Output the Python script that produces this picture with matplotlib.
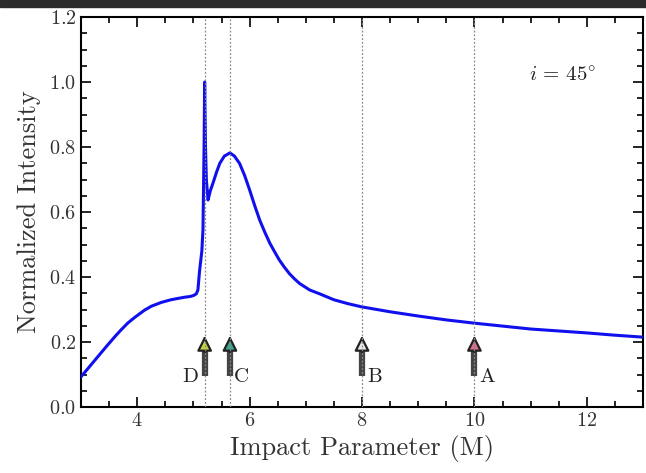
import matplotlib
matplotlib.use('Agg')
import matplotlib.pyplot as plt
from matplotlib.patches import Rectangle
from matplotlib.ticker import MultipleLocator

plt.rcParams['font.family'] = 'cmr10'
plt.rcParams['mathtext.fontset'] = 'cm'
plt.rcParams['axes.formatter.use_mathtext'] = True

# intensity profile
impact = [3.0, 3.15, 3.3, 3.45, 3.6, 3.7, 3.83, 3.95, 4.13, 4.25, 4.43, 4.6,
          4.72, 4.85, 4.94, 5.0, 5.05, 5.08, 5.11, 5.15, 5.17,
          5.19, 5.20, 5.215, 5.23, 5.26, 5.3, 5.35, 5.41, 5.47, 5.55, 5.65, 5.73,
          5.82, 5.91, 6.0, 6.09, 6.18, 6.27, 6.36, 6.45, 6.53, 6.62, 6.71, 6.8,
          6.89, 6.98, 7.07, 7.25, 7.5, 7.75, 8.0, 8.5, 9.0, 9.5,
          10.0, 10.5, 11.0, 11.5, 12.0, 12.5, 13.0]
intensity = [0.093, 0.124, 0.155, 0.186, 0.216, 0.235, 0.258, 0.275, 0.298, 0.31,
             0.322, 0.33, 0.334, 0.338, 0.34, 0.343, 0.348, 0.36, 0.42, 0.48, 0.545,
             0.8, 1.0, 0.8, 0.70, 0.637, 0.665, 0.69, 0.722, 0.75,
             0.772, 0.782, 0.772, 0.75, 0.713, 0.668, 0.62, 0.575, 0.538, 0.504,
             0.476, 0.452, 0.43, 0.41, 0.394, 0.38, 0.37, 0.36, 0.348, 0.33,
             0.318, 0.308, 0.293, 0.28, 0.268, 0.258, 0.249, 0.24, 0.234,
             0.228, 0.221, 0.215]

# marked radii
mark_names = ['A', 'B', 'C', 'D']
mark_pos = [10.0, 8.0, 5.65, 5.2]
mark_colors = ['#d8708c', '#e8e8e8', '#3aa68e', '#c8d048']
label_pos = [10.22, 8.22, 5.86, 4.94]

fig = plt.figure(figsize=(6.46, 4.73), dpi=100)
fig.patches.append(Rectangle((0, 0.985), 1, 0.015, transform=fig.transFigure,
                             color='#2b2b2b', zorder=10))
ax = fig.add_axes([0.1254, 0.1395, 0.8700, 0.8245])

ax.plot(impact, intensity, color='#1010ee', lw=2.2, zorder=3)

for name, xp, c, lx in zip(mark_names, mark_pos, mark_colors, label_pos):
    ax.axvline(xp, color='#888888', ls=(0, (1.5, 1.5)), lw=0.9, zorder=5)
    ax.plot([xp, xp], [0.095, 0.185], color='#444444', lw=4.5, solid_capstyle='butt', zorder=4)
    ax.annotate('', xy=(xp, 0.228), xytext=(xp, 0.16),
                arrowprops=dict(arrowstyle='-|>,head_width=0.45,head_length=0.9',
                                fc=c, ec='#222222', lw=1.6), zorder=4)
    ax.text(lx, 0.092, name, ha='center', va='center', fontsize=15, color='#222222')

ax.text(10.97, 1.02, r'$i\,=\,45^{\circ}$', fontsize=15, ha='left', va='center',
        color='#222222')

ax.set_xlim(3, 13)
ax.set_ylim(0, 1.2)
ax.xaxis.set_major_locator(MultipleLocator(2))
ax.xaxis.set_minor_locator(MultipleLocator(0.5))
ax.yaxis.set_major_locator(MultipleLocator(0.2))
ax.yaxis.set_minor_locator(MultipleLocator(0.05))
ax.tick_params(which='both', direction='in', top=True, right=True, labelsize=14.5,
               width=1.2, labelcolor='#333333')
ax.tick_params(which='major', length=7)
ax.tick_params(which='minor', length=4)
for s in ax.spines.values():
    s.set_linewidth(1.5)
ax.set_xlabel('Impact Parameter (M)', fontsize=19, labelpad=4, color='#333333')
ax.set_ylabel('Normalized Intensity', fontsize=19, labelpad=6, color='#333333')

fig.savefig('out.png', dpi=100)
